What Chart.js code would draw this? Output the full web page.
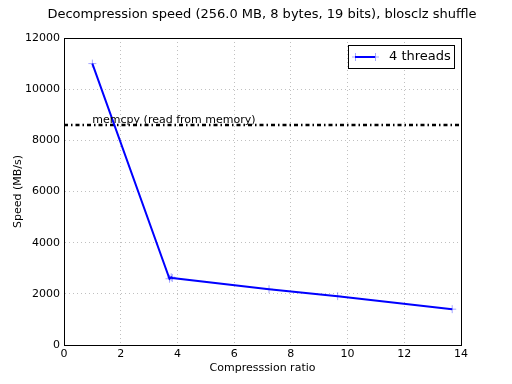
<!DOCTYPE html>
<html>
<head>
<meta charset="utf-8">
<script src="https://cdn.jsdelivr.net/npm/chart.js@4.4.1/dist/chart.umd.min.js"></script>
<style>
  html, body { margin: 0; padding: 0; background: #fff; }
  #wrap { width: 512px; height: 384px; }
</style>
</head>
<body>
<div id="wrap"><canvas id="chart" width="512" height="384"></canvas></div>
<script>
// Data
const ratios   = [1.0, 3.72, 3.78, 3.82, 7.23, 9.65, 13.69];
const speeds   = [11000, 2590, 2650, 2620, 2180, 1910, 1400];
const memcpyX  = [0, 14];
const memcpyY  = [8600, 8600];
const xTicks   = [0, 2, 4, 6, 8, 10, 12, 14];
const yTicks   = [0, 2000, 4000, 6000, 8000, 10000, 12000];

const titleText  = 'Decompression speed (256.0 MB, 8 bytes, 19 bits), blosclz shuffle';
const memcpyText = 'memcpy (read from memory)';
const seriesName = '4 threads';

const FONT = 'DejaVu Sans';

// frame, title, memcpy label and legend box
const decor = {
  id: 'decor',
  afterDatasetsDraw(chart) {
    const { ctx, chartArea: a, scales } = chart;
    ctx.save();
    ctx.strokeStyle = '#000';
    ctx.lineWidth = 1;
    ctx.strokeRect(a.left + 0.5, a.top + 0.5, a.right - a.left, a.bottom - a.top);

    ctx.fillStyle = '#000';
    ctx.font = `13px "${FONT}"`;
    ctx.textAlign = 'center';
    ctx.textBaseline = 'middle';
    ctx.fillText(titleText, 262, 15);

    ctx.font = `11px "${FONT}"`;
    ctx.textAlign = 'left';
    ctx.textBaseline = 'alphabetic';
    ctx.fillText(memcpyText, scales.x.getPixelForValue(1.0), scales.y.getPixelForValue(memcpyY[0]) - 2);

    // legend
    const lx = 348, ly = 45, lw = 106, lh = 23;
    ctx.fillStyle = '#fff';
    ctx.fillRect(lx, ly, lw, lh);
    ctx.strokeRect(lx + 0.5, ly + 0.5, lw, lh);
    const cy = ly + lh / 2 + 0.5;
    ctx.strokeStyle = 'rgba(0,0,255,0.35)';
    ctx.lineWidth = 1;
    ctx.beginPath();
    ctx.moveTo(355.5, cy - 4); ctx.lineTo(355.5, cy + 4);
    ctx.moveTo(375.5, cy - 4); ctx.lineTo(375.5, cy + 4);
    ctx.moveTo(352, cy); ctx.lineTo(379, cy);
    ctx.stroke();
    ctx.strokeStyle = '#0000ff';
    ctx.lineWidth = 2;
    ctx.beginPath(); ctx.moveTo(355, cy); ctx.lineTo(375, cy); ctx.stroke();
    ctx.fillStyle = '#000';
    ctx.font = `13px "${FONT}"`;
    ctx.textBaseline = 'middle';
    ctx.fillText(seriesName, 389, cy);
    ctx.restore();
  }
};

const gridStyle = { color: '#c0c0c0', lineWidth: 1, drawTicks: false };
const tickFont = { family: FONT, size: 11 };

new Chart(document.getElementById('chart'), {
  type: 'scatter',
  data: {
    datasets: [
      {
        label: 'memcpy',
        data: memcpyX.map((x, i) => ({ x, y: memcpyY[i] })),
        showLine: true,
        borderColor: '#000',
        borderWidth: 2.5,
        borderDash: [4, 3, 1.5, 3],
        pointRadius: 0,
        order: 2
      },
      {
        label: seriesName,
        data: ratios.map((x, i) => ({ x, y: speeds[i] })),
        showLine: true,
        borderColor: '#0000ff',
        borderWidth: 2,
        pointStyle: 'cross',
        pointRadius: 4,
        pointBorderColor: 'rgba(0,0,255,0.35)',
        pointBorderWidth: 1,
        order: 1
      }
    ]
  },
  options: {
    responsive: false,
    animation: false,
    layout: { padding: { left: 0, right: 51, top: 38, bottom: 0 } },
    plugins: { legend: { display: false }, tooltip: { enabled: false } },
    scales: {
      x: {
        type: 'linear',
        min: 0, max: 14,
        afterBuildTicks: s => { s.ticks = xTicks.map(v => ({ value: v })); },
        afterFit: s => { s.height = 39; },
        grid: gridStyle,
        border: { color: '#000', dash: [1, 3] },
        ticks: { color: '#000', font: tickFont, padding: 3, maxRotation: 0, callback: v => String(v) },
        title: { display: true, text: 'Compresssion ratio', color: '#000', font: tickFont, padding: { top: 2, bottom: 9 } }
      },
      y: {
        type: 'linear',
        min: 0, max: 12000,
        afterBuildTicks: s => { s.ticks = yTicks.map(v => ({ value: v })); },
        afterFit: s => { s.width = 64; },
        grid: gridStyle,
        border: { color: '#000', dash: [1, 3] },
        ticks: { color: '#000', font: tickFont, padding: 4, callback: v => String(v) },
        title: { display: true, text: 'Speed (MB/s)', color: '#000', font: tickFont, padding: { top: 12, bottom: 4 } }
      }
    }
  },
  plugins: [decor]
});
</script>
</body>
</html>
